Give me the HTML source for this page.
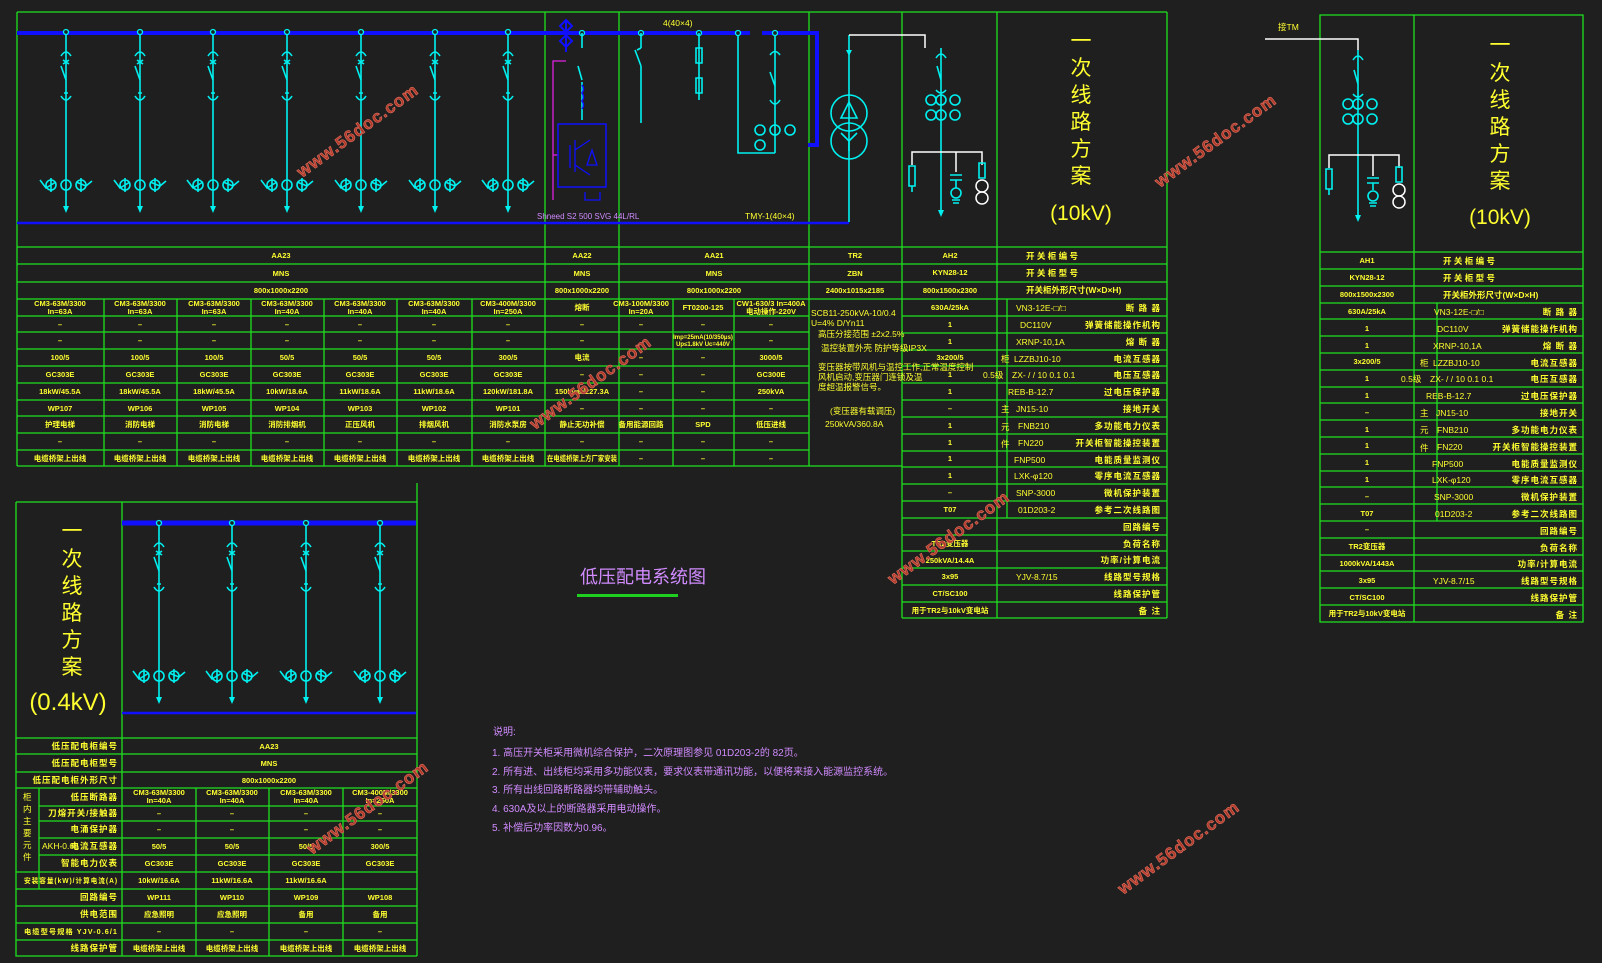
<!DOCTYPE html>
<html><head><meta charset="utf-8"><style>
html,body{margin:0;padding:0;background:#1f1f1f;}
svg{display:block}
text{font-family:"Liberation Sans","Noto Sans CJK SC",sans-serif;}
.g{stroke:#1fe01f;stroke-width:1.3;fill:none}
.c{stroke:#00f0f0;stroke-width:1.6;fill:none}
.t{fill:#ffff30;font-size:7.5px;font-weight:bold;text-anchor:middle}
.tl{fill:#ffff30;font-size:8.5px;text-anchor:start}
.tr{fill:#ffff30;font-size:8.5px;font-weight:bold;text-anchor:end;letter-spacing:1px}
.big{fill:#ffff30;font-size:21px;text-anchor:middle}
.wm{fill:#b03a2a;stroke:#e07060;stroke-width:.6;font-size:17px;font-weight:bold;font-family:"Liberation Sans",sans-serif;letter-spacing:1px}
.p{fill:#d18bff}
</style></head><body>
<svg width="1602" height="963" viewBox="0 0 1602 963" xmlns="http://www.w3.org/2000/svg">
<defs>
<g id="fd">
 <line class="c" x1="0" y1="32" x2="0" y2="208"/>
 <circle cx="0" cy="32" r="2.5" fill="#1f1f1f" stroke="#00f0f0" stroke-width="1.3"/>
 <path class="c" d="M-5 56 Q0 48 5 56 M-3 60 L3 64 M3 60 L-3 64"/>
 <line class="c" x1="-5" y1="66" x2="0" y2="80"/>
 <path class="c" d="M-5 96 Q0 104 5 96 M-2 93 L2 93"/>
 <circle class="c" cx="0" cy="185" r="5"/><circle class="c" cx="-15" cy="185" r="5"/><circle class="c" cx="15" cy="185" r="5"/>
 <path class="c" d="M-26 180 L-20 188 L-10 182 M10 182 L20 186 L26 181 M-15 178 L-15 192 M15 178 L15 192"/>
 <polygon points="-3,206 3,206 0,213" fill="#00f0f0"/>
</g>
</defs>

<path class="g" d="M17 12 H1167 M17 12 V466 M545 12 V466 M619 12 V466 M809 12 V466 M902 12 V618 M997 12 V618 M1167 12 V618"/>
<path class="g" d="M17 247 H1167 M17 264 H1167 M17 282 H1167 M17 299 H1167"/>
<path class="g" d="M17 316 H809 M17 332 H809 M17 349 H809 M17 366 H809 M17 383 H809 M17 400 H809 M17 416 H809 M17 433 H809 M17 450 H809 M17 466 H902"/>
<path class="g" d="M104 299 V466 M177 299 V466 M251 299 V466 M324 299 V466 M397 299 V466 M472 299 V466 M673 299 V466 M734 299 V466"/>
<path class="g" d="M902 316 H1167 M902 333 H1167 M902 350 H1167 M902 366 H1167 M902 383 H1167 M902 400 H1167 M902 417 H1167 M902 434 H1167 M902 451 H1167 M902 467 H1167 M902 484 H1167 M902 501 H1167 M902 518 H1167 M902 535 H1167 M902 551 H1167 M902 568 H1167 M902 585 H1167 M902 602 H1167 M902 618 H1167 M1007 299 V518"/>

<path d="M17 33 H750 M762 33 H817 V145 H808" stroke="#1010ff" stroke-width="4" fill="none"/>
<line x1="17" y1="223" x2="849" y2="223" stroke="#1010ff" stroke-width="2.5"/>

<use href="#fd" x="66"/><use href="#fd" x="140"/><use href="#fd" x="213"/><use href="#fd" x="287"/><use href="#fd" x="361"/><use href="#fd" x="435"/><use href="#fd" x="508"/>

<path d="M566 20 L572 26 L566 32 L560 26Z M566 35 L572 41 L566 47 L560 41Z M566 20 V52" stroke="#1010ff" stroke-width="2" fill="none"/>
<path d="M553 200 V61 H566 M553 155 H558" stroke="#e020e0" stroke-width="1.3" fill="none"/>
<circle cx="582" cy="33" r="2.5" fill="#1f1f1f" stroke="#00f0f0" stroke-width="1.3"/>
<path class="c" d="M582 33 V48 M578 66 L582 80 M582 82 V120"/>
<path d="M582 85 q3 4 0 8 q3 4 0 8 q3 4 0 8" stroke="#1010ff" stroke-width="1.5" fill="none"/>
<rect x="558" y="124" width="48" height="63" stroke="#1010ff" stroke-width="1.5" fill="none"/>
<path d="M570 145 V168 M575 140 V172 M575 150 L590 140 M575 165 L590 175 M592 150 L597 165 L587 165Z M585 192 V200 H600 V192" stroke="#1010ff" stroke-width="1.3" fill="none"/>
<text x="537" y="219" class="p" font-size="8">Shneed S2 500 SVG 44L/RL</text>
<text x="663" y="26" class="tl" font-size="8">4(40×4)</text>
<circle cx="641" cy="33" r="2.5" fill="#1f1f1f" stroke="#00f0f0" stroke-width="1.3"/>
<path class="c" d="M641 33 V48 M637 50 L641 48 M635 50 L641 66 M641 66 V123"/>
<circle cx="699" cy="33" r="2.5" fill="#1f1f1f" stroke="#00f0f0" stroke-width="1.3"/>
<path class="c" d="M699 33 V100 M696 48 H702 V63 H696Z M696 78 H702 V93 H696Z"/>
<path class="c" d="M738 33 V153 H775 M775 33 V153"/>
<circle cx="738" cy="33" r="2.5" fill="#1f1f1f" stroke="#00f0f0" stroke-width="1.3"/>
<circle cx="775" cy="33" r="2.5" fill="#1f1f1f" stroke="#00f0f0" stroke-width="1.3"/>
<path class="c" d="M770 55 Q775 48 780 55 M770 72 L775 86 M770 100 Q775 108 780 100"/>
<circle class="c" cx="760" cy="130" r="5"/><circle class="c" cx="775" cy="130" r="5"/><circle class="c" cx="790" cy="130" r="5"/><circle class="c" cx="760" cy="145" r="5"/>
<text x="745" y="219" class="tl" font-size="8">TMY-1(40×4)</text>

<path class="c" d="M849 35 V222 M849 35 V50"/>
<path d="M849 35 H925 V48" stroke="#fff" stroke-width="1.5" fill="none"/>
<circle class="c" cx="849" cy="113" r="18"/><circle class="c" cx="849" cy="141" r="18"/>
<path class="c" d="M849 102 L857 118 H841Z M849 141 V151 M849 141 L841 133 M849 141 L857 133"/>
<polygon points="846,50 852,50 849,56" fill="#00f0f0"/>
<path class="c" d="M941 48 V212 M936 58 Q941 50 946 58 M937 66 L941 80 M936 90 Q941 96 946 90"/>
<g class="c"><circle cx="931" cy="100" r="5"/><circle cx="941" cy="100" r="5"/><circle cx="955" cy="100" r="5"/><circle cx="931" cy="115" r="5"/><circle cx="941" cy="115" r="5"/><circle cx="955" cy="115" r="5"/></g>
<path d="M912 165 V152 H982 V165 M956 152 V172" stroke="#fff" stroke-width="1.5" fill="none"/>
<path class="c" d="M909 166 H915 V186 H909Z M912 186 V192 M950 175 H962 M950 180 H962 M956 180 V188 M952 200 H960 M953 203 H959 M979 163 H985 V178 H979Z"/>
<circle class="c" cx="956" cy="193" r="5"/><circle cx="982" cy="186" r="6" stroke="#fff" stroke-width="1.5" fill="none"/><circle cx="982" cy="198" r="6" stroke="#fff" stroke-width="1.5" fill="none"/>
<polygon points="938,210 944,210 941,217" fill="#00f0f0"/>

<text x="1081" y="48" class="big">一</text><text x="1081" y="75" class="big">次</text><text x="1081" y="102" class="big">线</text><text x="1081" y="129" class="big">路</text><text x="1081" y="156" class="big">方</text><text x="1081" y="183" class="big">案</text>
<text x="1081" y="220" class="big">(10kV)</text>

<g class="t">
<text x="281" y="258">AA23</text><text x="582" y="258">AA22</text><text x="714" y="258">AA21</text>
<text x="281" y="276">MNS</text><text x="582" y="276">MNS</text><text x="714" y="276">MNS</text>
<text x="281" y="293">800x1000x2200</text><text x="582" y="293">800x1000x2200</text><text x="714" y="293">800x1000x2200</text>
<text x="60" y="306">CM3-63M/3300</text><text x="60" y="314">In=63A</text>
<text x="140" y="306">CM3-63M/3300</text><text x="140" y="314">In=63A</text>
<text x="214" y="306">CM3-63M/3300</text><text x="214" y="314">In=63A</text>
<text x="287" y="306">CM3-63M/3300</text><text x="287" y="314">In=40A</text>
<text x="360" y="306">CM3-63M/3300</text><text x="360" y="314">In=40A</text>
<text x="434" y="306">CM3-63M/3300</text><text x="434" y="314">In=40A</text>
<text x="508" y="306">CM3-400M/3300</text><text x="508" y="314">In=250A</text>
<text x="582" y="310">熔断</text>
<text x="641" y="306">CM3-100M/3300</text><text x="641" y="314">In=20A</text>
<text x="703" y="310">FT0200-125</text>
<text x="771" y="306">CW1-630/3 In=400A</text><text x="771" y="314">电动操作-220V</text>
<text x="60" y="327">–</text><text x="140" y="327">–</text><text x="214" y="327">–</text><text x="287" y="327">–</text><text x="360" y="327">–</text><text x="434" y="327">–</text><text x="508" y="327">–</text><text x="582" y="327">–</text><text x="641" y="327">–</text><text x="703" y="327">–</text><text x="771" y="327">–</text>
<text x="60" y="343">–</text><text x="140" y="343">–</text><text x="214" y="343">–</text><text x="287" y="343">–</text><text x="360" y="343">–</text><text x="434" y="343">–</text><text x="508" y="343">–</text><text x="582" y="343">–</text><text x="703" y="339" font-size="6">Imp=25mA(10/350μs)</text><text x="703" y="346" font-size="6">Up≤1.8kV Uc=440V</text><text x="771" y="343">–</text>
<text x="60" y="360">100/5</text><text x="140" y="360">100/5</text><text x="214" y="360">100/5</text><text x="287" y="360">50/5</text><text x="360" y="360">50/5</text><text x="434" y="360">50/5</text><text x="508" y="360">300/5</text><text x="582" y="360">电流</text><text x="641" y="360">–</text><text x="703" y="360">–</text><text x="771" y="360">3000/5</text>
<text x="60" y="377">GC303E</text><text x="140" y="377">GC303E</text><text x="214" y="377">GC303E</text><text x="287" y="377">GC303E</text><text x="360" y="377">GC303E</text><text x="434" y="377">GC303E</text><text x="508" y="377">GC303E</text><text x="582" y="377">–</text><text x="641" y="377">–</text><text x="703" y="377">–</text><text x="771" y="377">GC300E</text>
<text x="60" y="394">18kW/45.5A</text><text x="140" y="394">18kW/45.5A</text><text x="214" y="394">18kW/45.5A</text><text x="287" y="394">10kW/18.6A</text><text x="360" y="394">11kW/18.6A</text><text x="434" y="394">11kW/18.6A</text><text x="508" y="394">120kW/181.8A</text><text x="582" y="394">150kvar/227.3A</text><text x="641" y="394">–</text><text x="703" y="394">–</text><text x="771" y="394">250kVA</text>
<text x="60" y="411">WP107</text><text x="140" y="411">WP106</text><text x="214" y="411">WP105</text><text x="287" y="411">WP104</text><text x="360" y="411">WP103</text><text x="434" y="411">WP102</text><text x="508" y="411">WP101</text><text x="582" y="411">–</text><text x="641" y="411">–</text><text x="703" y="411">–</text><text x="771" y="411">–</text>
<text x="60" y="427">护理电梯</text><text x="140" y="427">消防电梯</text><text x="214" y="427">消防电梯</text><text x="287" y="427">消防排烟机</text><text x="360" y="427">正压风机</text><text x="434" y="427">排烟风机</text><text x="508" y="427">消防水泵房</text><text x="582" y="427">静止无功补偿</text><text x="641" y="427">备用能源回路</text><text x="703" y="427">SPD</text><text x="771" y="427">低压进线</text>
<text x="60" y="444">–</text><text x="140" y="444">–</text><text x="214" y="444">–</text><text x="287" y="444">–</text><text x="360" y="444">–</text><text x="434" y="444">–</text><text x="508" y="444">–</text><text x="582" y="444">–</text><text x="641" y="444">–</text><text x="703" y="444">–</text><text x="771" y="444">–</text>
<text x="60" y="461">电缆桥架上出线</text><text x="140" y="461">电缆桥架上出线</text><text x="214" y="461">电缆桥架上出线</text><text x="287" y="461">电缆桥架上出线</text><text x="360" y="461">电缆桥架上出线</text><text x="434" y="461">电缆桥架上出线</text><text x="508" y="461">电缆桥架上出线</text><text x="582" y="461" textLength="70" lengthAdjust="spacingAndGlyphs">在电缆桥架上方厂家安装</text><text x="641" y="461">–</text><text x="703" y="461">–</text><text x="771" y="461">–</text>
<text x="855" y="258">TR2</text><text x="855" y="276">ZBN</text><text x="855" y="293">2400x1015x2185</text>
</g>
<g class="tl" font-size="7.5">
<text x="811" y="316">SCB11-250kVA-10/0.4</text><text x="811" y="326">U=4% D/Yn11</text>
<text x="818" y="337">高压分接范围 ±2x2.5%</text><text x="821" y="351">温控装置外壳 防护等级IP3X</text>
<text x="818" y="370">变压器按带风机与温控工作,正常温度控制</text><text x="818" y="380">风机启动,变压器门连锁及温</text><text x="818" y="390">度超温报警信号。</text>
<text x="830" y="414">(变压器有载调压)</text><text x="825" y="427">250kVA/360.8A</text>
</g>

<g class="t">
<text x="950" y="258">AH2</text><text x="950" y="275">KYN28-12</text><text x="950" y="293">800x1500x2300</text><text x="950" y="310">630A/25kA</text><text x="950" y="327">1</text><text x="950" y="344">1</text><text x="950" y="360">3x200/5</text><text x="950" y="377">1</text><text x="950" y="394">1</text><text x="950" y="411">–</text><text x="950" y="428">1</text><text x="950" y="445">1</text><text x="950" y="461">1</text><text x="950" y="478">1</text><text x="950" y="495">–</text><text x="950" y="512">T07</text><text x="950" y="546">TR2变压器</text><text x="950" y="563">250kVA/14.4A</text><text x="950" y="579">3x95</text><text x="950" y="596">CT/SC100</text><text x="950" y="613">用于TR2与10kV变电站</text>
</g>
<g class="tl">
<text x="1026" y="259" font-weight="bold">开 关 柜 编 号</text><text x="1026" y="276" font-weight="bold">开 关 柜 型 号</text><text x="1026" y="293" font-weight="bold">开关柜外形尺寸(W×D×H)</text>
<text x="1016" y="311">VN3-12E-□/□</text><text x="1020" y="328">DC110V</text><text x="1016" y="345">XRNP-10,1A</text><text x="1014" y="362">LZZBJ10-10</text><text x="1012" y="378">ZX-  /  /  10 0.1 0.1</text><text x="1008" y="395">REB-B-12.7</text><text x="1016" y="412">JN15-10</text><text x="1018" y="429">FNB210</text><text x="1018" y="446">FN220</text><text x="1014" y="463">FNP500</text><text x="1014" y="479">LXK-φ120</text><text x="1016" y="496">SNP-3000</text><text x="1018" y="513">01D203-2</text><text x="1016" y="580">YJV-8.7/15</text>
<text x="983" y="378">0.5级</text><text x="1001" y="362">柜</text><text x="1001" y="412">主</text><text x="1001" y="430">元</text><text x="1001" y="447">件</text>
</g>
<g class="tr">
<text x="1161" y="311">断 路 器</text><text x="1161" y="328">弹簧储能操作机构</text><text x="1161" y="345">熔 断 器</text><text x="1161" y="362">电流互感器</text><text x="1161" y="378">电压互感器</text><text x="1161" y="395">过电压保护器</text><text x="1161" y="412">接地开关</text><text x="1161" y="429">多功能电力仪表</text><text x="1161" y="446">开关柜智能操控装置</text><text x="1161" y="463">电能质量监测仪</text><text x="1161" y="479">零序电流互感器</text><text x="1161" y="496">微机保护装置</text><text x="1161" y="513">参考二次线路图</text><text x="1161" y="530">回路编号</text><text x="1161" y="547">负荷名称</text><text x="1161" y="563">功率/计算电流</text><text x="1161" y="580">线路型号规格</text><text x="1161" y="597">线路保护管</text><text x="1161" y="614">备 注</text>
</g>

<path class="g" d="M1320 15 H1583 V622 H1320 Z M1414 15 V622 M1437 303 V521"/>
<path class="g" d="M1320 252 H1583 M1320 269 H1583 M1320 286 H1583 M1320 303 H1583 M1320 319 H1583 M1320 336 H1583 M1320 353 H1583 M1320 370 H1583 M1320 387 H1583 M1320 403 H1583 M1320 420 H1583 M1320 437 H1583 M1320 454 H1583 M1320 471 H1583 M1320 487 H1583 M1320 504 H1583 M1320 521 H1583 M1320 538 H1583 M1320 555 H1583 M1320 571 H1583 M1320 588 H1583 M1320 605 H1583"/>
<text x="1278" y="30" class="tl" font-size="9">接TM</text>
<path d="M1265 39 H1358 V50" stroke="#fff" stroke-width="1.5" fill="none"/>
<path class="c" d="M1358 50 V218 M1353 60 Q1358 52 1363 60 M1354 70 L1358 84 M1353 94 Q1358 100 1363 94"/>
<g class="c"><circle cx="1348" cy="104" r="5"/><circle cx="1358" cy="104" r="5"/><circle cx="1372" cy="104" r="5"/><circle cx="1348" cy="119" r="5"/><circle cx="1358" cy="119" r="5"/><circle cx="1372" cy="119" r="5"/></g>
<path d="M1329 168 V155 H1399 V168 M1373 155 V176" stroke="#fff" stroke-width="1.5" fill="none"/>
<path class="c" d="M1326 169 H1332 V189 H1326Z M1329 189 V195 M1367 178 H1379 M1367 183 H1379 M1373 183 V190 M1369 203 H1377 M1370 206 H1376 M1396 167 H1402 V182 H1396Z"/>
<circle class="c" cx="1373" cy="196" r="5"/><circle cx="1399" cy="190" r="6" stroke="#fff" stroke-width="1.5" fill="none"/><circle cx="1399" cy="202" r="6" stroke="#fff" stroke-width="1.5" fill="none"/>
<polygon points="1355,215 1361,215 1358,222" fill="#00f0f0"/>
<text x="1500" y="52" class="big">一</text><text x="1500" y="80" class="big">次</text><text x="1500" y="107" class="big">线</text><text x="1500" y="134" class="big">路</text><text x="1500" y="161" class="big">方</text><text x="1500" y="188" class="big">案</text>
<text x="1500" y="224" class="big">(10kV)</text>
<g class="t">
<text x="1367" y="263">AH1</text><text x="1367" y="280">KYN28-12</text><text x="1367" y="297">800x1500x2300</text><text x="1367" y="314">630A/25kA</text><text x="1367" y="331">1</text><text x="1367" y="348">1</text><text x="1367" y="364">3x200/5</text><text x="1367" y="381">1</text><text x="1367" y="398">1</text><text x="1367" y="415">–</text><text x="1367" y="432">1</text><text x="1367" y="448">1</text><text x="1367" y="465">1</text><text x="1367" y="482">1</text><text x="1367" y="499">–</text><text x="1367" y="516">T07</text><text x="1367" y="532">–</text><text x="1367" y="549">TR2变压器</text><text x="1367" y="566">1000kVA/1443A</text><text x="1367" y="583">3x95</text><text x="1367" y="600">CT/SC100</text><text x="1367" y="616">用于TR2与10kV变电站</text>
</g>
<g class="tl">
<text x="1443" y="264" font-weight="bold">开 关 柜 编 号</text><text x="1443" y="281" font-weight="bold">开 关 柜 型 号</text><text x="1443" y="298" font-weight="bold">开关柜外形尺寸(W×D×H)</text>
<text x="1434" y="315">VN3-12E-□/□</text><text x="1437" y="332">DC110V</text><text x="1433" y="349">XRNP-10,1A</text><text x="1433" y="366">LZZBJ10-10</text><text x="1430" y="382">ZX-  /  /  10 0.1 0.1</text><text x="1426" y="399">REB-B-12.7</text><text x="1436" y="416">JN15-10</text><text x="1437" y="433">FNB210</text><text x="1437" y="450">FN220</text><text x="1432" y="467">FNP500</text><text x="1432" y="483">LXK-φ120</text><text x="1434" y="500">SNP-3000</text><text x="1435" y="517">01D203-2</text><text x="1433" y="584">YJV-8.7/15</text>
<text x="1401" y="382">0.5级</text><text x="1420" y="366">柜</text><text x="1420" y="416">主</text><text x="1420" y="433">元</text><text x="1420" y="451">件</text>
</g>
<g class="tr">
<text x="1578" y="315">断 路 器</text><text x="1578" y="332">弹簧储能操作机构</text><text x="1578" y="349">熔 断 器</text><text x="1578" y="366">电流互感器</text><text x="1578" y="382">电压互感器</text><text x="1578" y="399">过电压保护器</text><text x="1578" y="416">接地开关</text><text x="1578" y="433">多功能电力仪表</text><text x="1578" y="450">开关柜智能操控装置</text><text x="1578" y="467">电能质量监测仪</text><text x="1578" y="483">零序电流互感器</text><text x="1578" y="500">微机保护装置</text><text x="1578" y="517">参考二次线路图</text><text x="1578" y="534">回路编号</text><text x="1578" y="551">负荷名称</text><text x="1578" y="567">功率/计算电流</text><text x="1578" y="584">线路型号规格</text><text x="1578" y="601">线路保护管</text><text x="1578" y="618">备 注</text>
</g>

<path class="g" d="M16 502 H417 M417 483 V956 M16 502 V956 H417 M122 502 V956 M39 788 V889"/>
<path class="g" d="M16 738 H417 M16 754 H417 M16 772 H417 M16 788 H417 M39 806 H417 M39 821 H417 M39 838 H417 M39 855 H417 M16 872 H417 M16 889 H417 M16 906 H417 M16 923 H417 M16 940 H417 M196 788 V956 M269 788 V956 M343 788 V956"/>
<line x1="122" y1="523" x2="416" y2="523" stroke="#1010ff" stroke-width="5"/>
<line x1="122" y1="713" x2="416" y2="713" stroke="#1010ff" stroke-width="2.5"/>
<g transform="translate(0,491)"><use href="#fd" x="159"/><use href="#fd" x="232"/><use href="#fd" x="306"/><use href="#fd" x="380"/></g>
<g class="big" font-size="22"><text x="72" y="538">一</text><text x="72" y="566">次</text><text x="72" y="593">线</text><text x="72" y="620">路</text><text x="72" y="647">方</text><text x="72" y="674">案</text><text x="68" y="710" font-size="24">(0.4kV)</text></g>
<g class="t">
<text x="269" y="749">AA23</text><text x="269" y="766">MNS</text><text x="269" y="783">800x1000x2200</text>
<text x="159" y="795">CM3-63M/3300</text><text x="159" y="803">In=40A</text><text x="232" y="795">CM3-63M/3300</text><text x="232" y="803">In=40A</text><text x="306" y="795">CM3-63M/3300</text><text x="306" y="803">In=40A</text><text x="380" y="795">CM3-400M/3300</text><text x="380" y="803">In=250A</text>
<text x="159" y="816">–</text><text x="232" y="816">–</text><text x="306" y="816">–</text><text x="380" y="816">–</text>
<text x="159" y="832">–</text><text x="232" y="832">–</text><text x="306" y="832">–</text><text x="380" y="832">–</text>
<text x="159" y="849">50/5</text><text x="232" y="849">50/5</text><text x="306" y="849">50/5</text><text x="380" y="849">300/5</text>
<text x="159" y="866">GC303E</text><text x="232" y="866">GC303E</text><text x="306" y="866">GC303E</text><text x="380" y="866">GC303E</text>
<text x="159" y="883">10kW/16.6A</text><text x="232" y="883">11kW/16.6A</text><text x="306" y="883">11kW/16.6A</text>
<text x="159" y="900">WP111</text><text x="232" y="900">WP110</text><text x="306" y="900">WP109</text><text x="380" y="900">WP108</text>
<text x="159" y="917">应急照明</text><text x="232" y="917">应急照明</text><text x="306" y="917">备用</text><text x="380" y="917">备用</text>
<text x="159" y="934">–</text><text x="232" y="934">–</text><text x="306" y="934">–</text><text x="380" y="934">–</text>
<text x="159" y="951">电缆桥架上出线</text><text x="232" y="951">电缆桥架上出线</text><text x="306" y="951">电缆桥架上出线</text><text x="380" y="951">电缆桥架上出线</text>
</g>
<g class="tr" letter-spacing="0" font-size="8">
<text x="118" y="749">低压配电柜编号</text><text x="118" y="766">低压配电柜型号</text><text x="118" y="783">低压配电柜外形尺寸</text>
<text x="118" y="800">低压断路器</text><text x="118" y="816">刀熔开关/接触器</text><text x="118" y="832">电涌保护器</text><text x="118" y="849">电流互感器</text><text x="118" y="866">智能电力仪表</text>
<text x="118" y="883" font-size="7" textLength="94" lengthAdjust="spacingAndGlyphs">安装容量(kW)/计算电流(A)</text><text x="118" y="900">回路编号</text><text x="118" y="917">供电范围</text><text x="118" y="934" font-size="7" textLength="94" lengthAdjust="spacingAndGlyphs">电缆型号规格 YJV-0.6/1</text><text x="118" y="951">线路保护管</text>
</g>
<text x="42" y="849" class="tl" font-size="8">AKH-0.66</text>
<g class="tl" font-size="8"><text x="23" y="800">柜</text><text x="23" y="812">内</text><text x="23" y="824">主</text><text x="23" y="836">要</text><text x="23" y="848">元</text><text x="23" y="860">件</text></g>

<text x="580" y="583" class="p" font-size="18">低压配电系统图</text>
<rect x="577" y="594" width="101" height="3" fill="#20d020"/>
<g class="p" font-size="10">
<text x="493" y="735">说明:</text>
<text x="492" y="756">1. 高压开关柜采用微机综合保护，二次原理图参见 01D203-2的 82页。</text>
<text x="492" y="775">2. 所有进、出线柜均采用多功能仪表，要求仪表带通讯功能，以便将来接入能源监控系统。</text>
<text x="492" y="793">3. 所有出线回路断路器均带辅助触头。</text>
<text x="492" y="812">4. 630A及以上的断路器采用电动操作。</text>
<text x="492" y="831">5. 补偿后功率因数为0.96。</text>
</g>

<g class="wm">
<text transform="translate(302,178) rotate(-36)">www.56doc.com</text>
<text transform="translate(535,430) rotate(-36)">www.56doc.com</text>
<text transform="translate(893,585) rotate(-36)">www.56doc.com</text>
<text transform="translate(1160,188) rotate(-36)">www.56doc.com</text>
<text transform="translate(312,855) rotate(-36)">www.56doc.com</text>
<text transform="translate(1123,895) rotate(-36)">www.56doc.com</text>
</g>
</svg>
</body></html>
